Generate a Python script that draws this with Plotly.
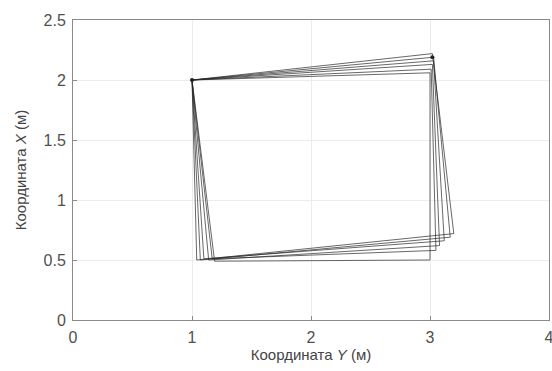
import plotly.graph_objects as go

# Trajectories: Y coordinate (horizontal) and X coordinate (vertical), metres
track_y = [
    [1.00, 3.02, 3.20, 1.04, 1.00],
    [1.00, 3.03, 3.17, 1.07, 1.00],
    [1.00, 3.03, 3.12, 1.10, 1.00],
    [1.00, 3.02, 3.08, 1.14, 1.00],
    [1.00, 3.01, 3.05, 1.17, 1.00],
    [1.00, 3.00, 3.00, 1.19, 1.00],
]
track_x = [
    [2.00, 2.22, 0.72, 0.50, 2.00],
    [2.00, 2.19, 0.69, 0.50, 2.00],
    [2.00, 2.16, 0.66, 0.51, 2.00],
    [2.00, 2.13, 0.62, 0.50, 2.00],
    [2.00, 2.09, 0.58, 0.51, 2.00],
    [2.00, 2.06, 0.50, 0.49, 2.00],
]
x_ticks = [0, 1, 2, 3, 4]
y_ticks = [0, 0.5, 1, 1.5, 2, 2.5]
y_tick_text = ["0", "0.5", "1", "1.5", "2", "2.5"]

fig = go.Figure()
for ty, tx in zip(track_y, track_x):
    fig.add_trace(go.Scatter(
        x=ty, y=tx, mode="lines",
        line=dict(color="rgba(40,40,40,0.7)", width=1),
        showlegend=False, hoverinfo="skip",
    ))
fig.add_trace(go.Scatter(
    x=[track_y[0][0], track_y[0][1]], y=[track_x[0][0], track_x[1][1]], mode="markers",
    marker=dict(color="#222", size=4), showlegend=False, hoverinfo="skip",
))

tick_font = dict(family="Liberation Sans, Arial, sans-serif", size=16, color="#505050")
title_font = dict(family="Liberation Sans, Arial, sans-serif", size=15, color="#444")
axis_common = dict(
    showgrid=True, gridcolor="#ececec", gridwidth=1,
    showline=True, linecolor="#8a8a8a", linewidth=1, mirror=True,
    ticks="inside", ticklen=4, tickcolor="#8a8a8a",
    zeroline=False, tickfont=tick_font, ticklabeloverflow="allow",
    automargin=False,
)
fig.update_layout(
    width=552, height=371,
    margin=dict(l=73, r=3, t=20, b=51),
    paper_bgcolor="white", plot_bgcolor="white",
    xaxis=dict(range=[0, 4], tickvals=x_ticks, ticktext=[str(v) for v in x_ticks],
               ticklabelstandoff=3,
               title=dict(text="Координата <i>Y</i> (м)", standoff=1, font=title_font),
               **axis_common),
    yaxis=dict(range=[0, 2.5], tickvals=y_ticks, ticktext=y_tick_text,
               ticklabelstandoff=3,
               title=dict(text="Координата <i>X</i> (м)", standoff=13, font=title_font),
               **axis_common),
)
fig.write_html("out.html")
